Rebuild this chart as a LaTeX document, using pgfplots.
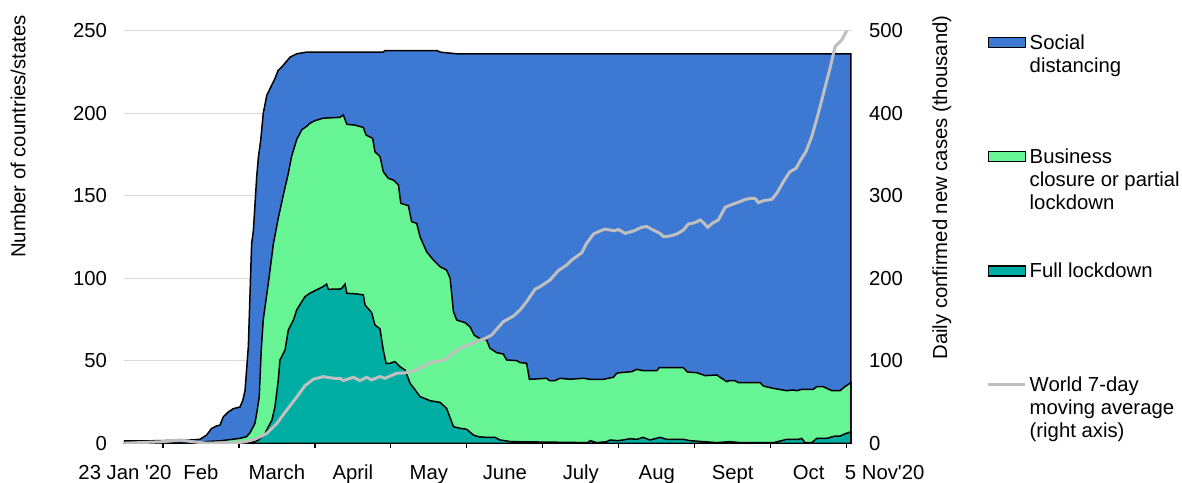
\documentclass[border=0pt]{standalone}
\usepackage{fontspec}
\setmainfont{Liberation Sans}
\usepackage{pgfplots}
\pgfplotsset{compat=1.18}
\definecolor{sdblue}{HTML}{3D78D3}
\definecolor{bcgreen}{HTML}{67F494}
\definecolor{flteal}{HTML}{00ADA3}
\definecolor{casegray}{HTML}{BFBFBF}
\definecolor{gridgray}{HTML}{D9D9D9}
\newcommand{\chartfont}{\fontsize{10.15}{11.4}\selectfont}

% x is days since 23 Jan 2020
\pgfplotsset{
  chartbase/.style={
    at={(0,0)}, anchor=south west,
    scale only axis, width=364pt, height=206.3pt,
    xmin=0, xmax=287.5,
    /pgf/number format/assume math mode=true,
    tick label style={font=\chartfont},
    label style={font=\chartfont},
    major tick length=0pt,
    ytick style={draw=none},
  },
  legbox/.style={legend image code/.code={%
    \draw[##1,line width=0.7pt] (0pt,0.85pt) rectangle (18.5pt,5.85pt);}},
}

\begin{document}
\begin{tikzpicture}
\useasboundingbox (-62pt,-19.35pt) rectangle (529pt,221.65pt);

\begin{axis}[chartbase,
  ymin=0, ymax=250, ytick={0,50,...,250},
  axis x line*=bottom, axis y line*=left,
  axis line style={-},
  y axis line style={draw=none},
  x axis line style={black,line width=0.8pt},
  ymajorgrids, grid style={gridgray,line width=0.65pt},
  xtick={0.4,30.4,...,270.4},
  xticklabels={23 Jan \textquotesingle20,Feb,March,April,May,June,July,Aug,Sept,Oct},
  minor xtick={15.4,45.4,...,285.4},
  minor tick length=2.5pt, tick align=outside,
  minor tick style={black,line width=0.6pt},
  xticklabel style={yshift=-7.45pt},
  yticklabel style={xshift=-5pt},
  extra x ticks={285.4}, extra x tick labels={5 Nov\textquotesingle20},
  extra x tick style={xticklabel style={xshift=19pt}},
  ylabel={Number of countries/states},
  every axis y label/.style={at={(axis description cs:-0.1456,0.7436)},rotate=90,anchor=center,font=\chartfont},
  legend style={at={(axis description cs:1.1845,0.9964)},anchor=north west,
    draw=none,fill=none,inner sep=0pt,row sep=46.2pt,column sep=0.5pt,
    font=\chartfont,nodes={inner sep=1pt,anchor=base west}},
]
\addplot[fill=sdblue,draw=black,line width=0.75pt,legbox] coordinates {
(0,1.5) (10,1.5) (20,1.8) (26,2) (30,2.4) (32.6,5) (34.6,9) (36.5,10.5) (37.9,11)
(39.2,16) (41.2,19) (43.2,21) (45.8,22) (46.9,26) (47.8,32) (49.1,58.6) (50.4,121)
(51.1,129) (52.4,161.5) (53.1,173.7) (54,183.8) (55,200) (56.4,211) (57.7,215)
(59.6,221) (60.9,226) (62.3,228) (65.6,234) (68.2,236) (72.1,237) (102.4,237)
(103,238) (123.5,238) (125,237) (131.4,236) (287.1,236)
} \closedcycle;
\addlegendentry{\parbox[t]{120pt}{Social\\distancing}}

\addplot[fill=bcgreen,draw=black,line width=0.75pt,legbox] coordinates {
(0,0) (30,0) (32,1) (37.9,1.5) (45.8,3) (48.4,4) (49.8,6.5) (51.7,12) (52.6,20)
(53.4,28) (54.2,56.5) (55,75) (57,97) (59,121) (61,137) (63,151) (64.9,163.6)
(66.2,174) (68.2,184) (70.2,190) (72.1,192) (73.5,194) (75.4,195.5) (78.7,197)
(85.3,197.5) (86.6,199) (88,193.3) (91.2,192.8) (94.5,191.4) (95.6,186.8)
(98.2,184.8) (99.1,176.7) (101.1,173.7) (102.4,164.6) (104.4,160.5) (106.4,159.5)
(108.4,156.5) (109.3,145.4) (112.3,144) (113.6,134.3) (115.6,133.3) (116.9,125.2)
(119.5,116.1) (122.2,111) (124.8,107) (127.4,105) (128.8,100) (130.1,79.8)
(131.4,74.7) (134.7,73.1) (136.7,70.5) (138.3,65.5) (140.3,63.6) (143.2,62.6)
(144.5,57.6) (147.2,54.9) (149.8,54.1) (151.1,50.5) (155.1,50.1) (156.4,48.9)
(159,48.5) (160.1,38.8) (163,39) (166.9,39.4) (168,38) (170.2,38) (172.2,39.4)
(176.1,38.8) (181.4,39.4) (184,38.8) (189.3,38.8) (193.3,40) (194.6,42.4)
(195.9,42.8) (200.5,43.4) (202.5,44.8) (205.1,44) (210.4,44) (211.4,45.8)
(220.9,45.8) (222.5,43.2) (226.2,42.8) (229.5,41) (234.1,41.4) (236,39.4)
(238,37.4) (239.3,38) (241.3,38) (242.6,36.8) (251.2,36.8) (252.5,34.7)
(256.4,33.3) (261.7,31.9) (264.3,32.3) (265.7,31.9) (267.6,32.7) (272.2,32.7)
(273.6,34.3) (276.2,34.3) (279.5,31.9) (282.8,31.9) (284.7,34.3) (287.1,36.8)
} \closedcycle;
\addlegendentry{\parbox[t]{120pt}{Business\\closure or partial\\lockdown}}

\addplot[fill=flteal,draw=black,line width=0.75pt,legbox] coordinates {
(0,0) (45,0) (49.1,0.4) (51.7,1) (53.1,2) (55.7,6) (57,10) (58.4,14) (59.6,22)
(60.9,38) (61.6,50.5) (63.6,56.5) (64.9,68.7) (66.9,74.7) (68.2,80.8) (70.2,85.8)
(71.5,88.9) (73.5,91) (76.1,93) (78.7,95) (80,96.5) (80.7,93.3) (85.3,93.5)
(86,93.9) (87.3,96.5) (88,90.9) (91.9,90.5) (94.5,89.9) (95.2,83.8) (97.8,79.2)
(99.1,71.7) (101.1,69.3) (102.4,56.5) (103.5,48.5) (105.1,48.5) (107,49.5)
(109,46.4) (111,44.4) (113,36.3) (115,32.3) (116.9,28.3) (120.9,25.8)
(124.8,24.8) (127.4,21.2) (130.1,10.1) (132.7,9.1) (135.3,8.5) (138,5) (140,4)
(143.2,3.6) (146.5,3.6) (148.5,2) (153,1) (183,0.4) (184.2,1.6) (186.7,0.4)
(190.6,1) (192,2) (195,1.6) (197,2) (200,2.8) (202.5,2.4) (205,3.6) (207.7,2)
(211.7,3.6) (214.3,2.4) (220.9,2.4) (223.5,1.6) (228.8,1) (234.1,0.4) (239.3,1)
(243.3,0.4) (256.4,0.4) (259.7,1.6) (261.7,2.4) (266.3,2.4) (267.6,3) (269,0.4)
(271.6,0.4) (273.6,3) (277.5,3) (280.8,4.4) (282.8,4.4) (284.7,5.7) (287.1,7)
} \closedcycle;
\addlegendentry{\parbox[t]{120pt}{Full lockdown}}

\addlegendimage{legend image code/.code={\draw[casegray,line width=1.5pt] (0pt,3.35pt) -- (18.5pt,3.35pt);}}
\addlegendentry{\parbox[t]{120pt}{World 7-day\\moving average\\(right axis)}}
\end{axis}

\begin{axis}[chartbase,
  ymin=0, ymax=500, ytick={0,100,...,500},
  axis x line=none, axis y line*=right,
  y axis line style={draw=none},
  yticklabel style={xshift=5pt},
  ylabel={Daily confirmed new cases (thousand)},
  every axis y label/.style={at={(axis description cs:1.1236,0.62)},rotate=90,anchor=center,font=\chartfont},
]
\addplot[casegray,line width=1.5pt] coordinates {
(0,0) (15.5,2) (22,4) (27,2) (32,0.3) (43,0.5) (47,1.5) (50,3.5) (52.4,6)
(56.4,12) (60.3,24) (64.2,40) (68.2,56) (71.5,70) (74.8,77.6) (78.7,80.8)
(82.7,78.8) (85.3,78.8) (86.6,76) (90.6,80) (93.2,76) (95.8,80) (97.8,76.8)
(101.1,80.8) (103.1,78.8) (107.7,84.8) (111.6,85.6) (115.6,88.8) (120.9,97.8)
(126.8,101) (128.8,107) (132.7,115.2) (136.7,120.2) (140.6,125.2) (141.9,126)
(145.2,131.2) (149.8,147.4) (153.8,154.2) (156.4,161.6) (159,171.6) (162.3,186.6)
(164.3,189.8) (168.2,197.8) (171.5,209.2) (174.8,216) (176.8,222) (180.8,231)
(182.7,242.4) (185.4,253.6) (187.3,256.4) (190,259.6) (192,258.4) (193.9,257.6)
(195.2,259.2) (197.9,254.4) (201.2,257.2) (204.4,261.8) (206.4,262.6)
(209.1,258.4) (211.7,254.4) (213,250.4) (215.6,251.2) (218.3,253.6)
(220.9,258.4) (222.9,265.8) (225.5,267.4) (227.5,270.6) (228.8,267.4)
(230.5,261.8) (232.7,267.4) (234.7,270.6) (237.4,286) (240.6,290) (243.3,292.8)
(244.6,294.8) (247.2,296.8) (249.2,296.8) (250.5,291.6) (252.5,294) (255.8,295.6)
(257.8,303) (260.4,317) (263,329.2) (265.4,333.2) (267.2,343.2) (269.3,353.4)
(271.6,371.6) (274.2,399.8) (276.9,432) (278.8,454.4) (280.8,480.6)
(282.1,484.6) (283.4,488.6) (285.4,500)
};
\end{axis}
\end{tikzpicture}
\end{document}
